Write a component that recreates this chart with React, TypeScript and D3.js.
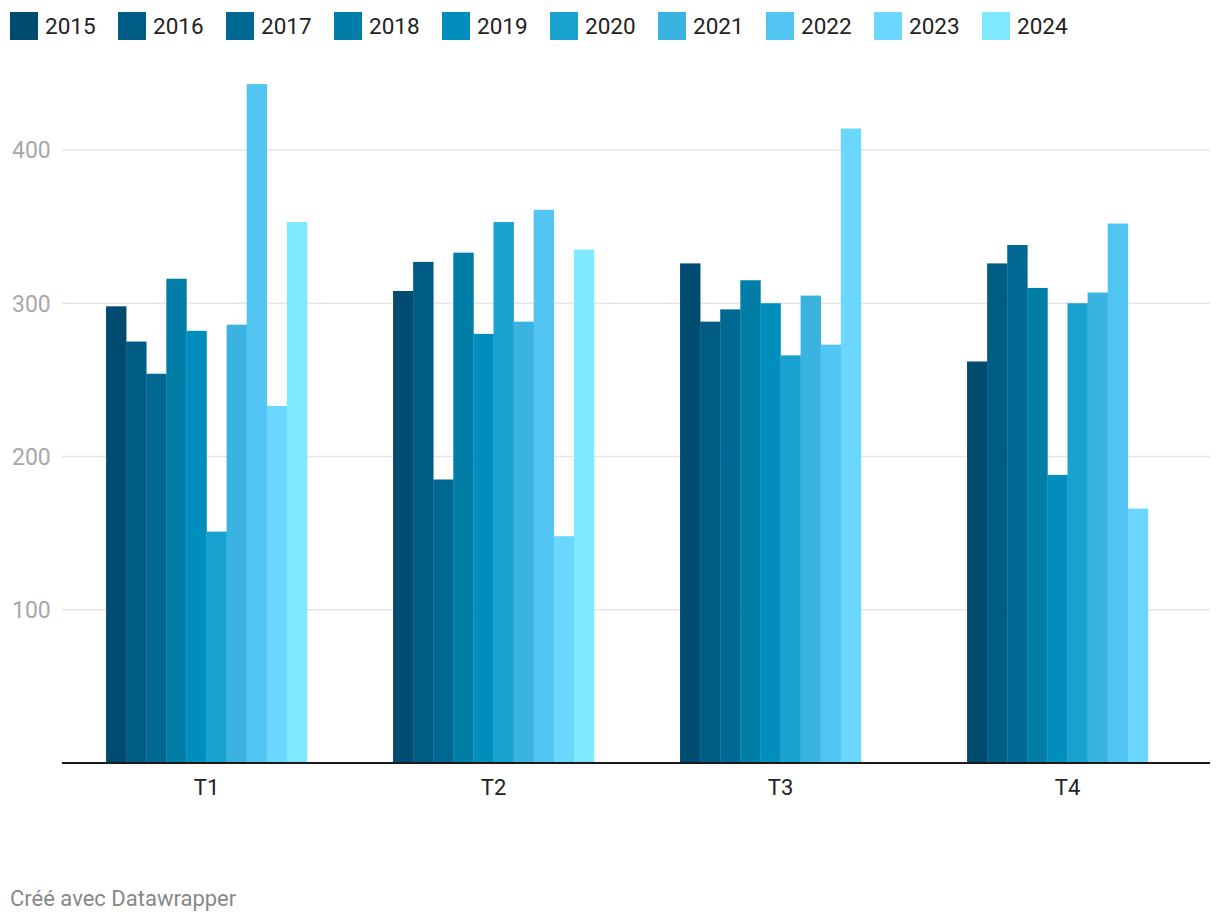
import React from "react";
import * as d3 from "d3";

const categories = ["T1", "T2", "T3", "T4"];
const years = ["2015", "2016", "2017", "2018", "2019", "2020", "2021", "2022", "2023", "2024"];
const colors = ["#004c70", "#005b85", "#006993", "#007ea8", "#008ebd", "#19a2cf", "#3bb3e0", "#52c5f2", "#6bd7fe", "#7ee9ff"];
// values[year][quarter]; null = missing
const v2015 = [298, 308, 326, 262];
const v2016 = [275, 327, 288, 326];
const v2017 = [254, 185, 296, 338];
const v2018 = [316, 333, 315, 310];
const v2019 = [282, 280, 300, 188];
const v2020 = [151, 353, 266, 300];
const v2021 = [286, 288, 305, 307];
const v2022 = [443, 361, 273, 352];
const v2023 = [233, 148, 414, 166];
const v2024 = [353, 335, null, null];
const series = [v2015, v2016, v2017, v2018, v2019, v2020, v2021, v2022, v2023, v2024];
const yTicks = [100, 200, 300, 400];

const W = 1220;
const H = 924;
const left = 62;
const right = 1210;
const baseY = 763;

export default function App() {
  const x0 = d3.scaleBand<string>().domain(categories).range([left + 1, right + 1]).paddingInner(0.3).paddingOuter(0.15);
  const x1 = d3.scaleBand<string>().domain(years).range([0, x0.bandwidth()]).padding(0);
  const y = d3.scaleLinear().domain([0, 400]).range([baseY, 150]);
  const font = "Roboto, 'Noto Sans', sans-serif";

  return (
    <svg width={W} height={H} style={{ position: "absolute", left: 0, top: 0, background: "#fff" }} fontFamily={font}>
      {/* legend */}
      {years.map((yr, i) => (
        <g key={yr} transform={`translate(${10 + i * 108},12)`}>
          <rect width={28} height={28} fill={colors[i]} />
          <text x={35} y={14} dy="0.36em" fontSize={22.5} fill="#222">{yr}</text>
        </g>
      ))}
      {/* grid */}
      {yTicks.map((t) => (
        <g key={t}>
          <line x1={left} x2={right} y1={y(t)} y2={y(t)} stroke="#e6e6e6" strokeWidth={1.5} />
          <text x={12} y={y(t)} dy="0.36em" fontSize={23} fill="#a8a8a8">{t}</text>
        </g>
      ))}
      {/* bars */}
      {categories.map((c, ci) => (
        <g key={c} transform={`translate(${x0(c)},0)`}>
          {years.map((yr, yi) => {
            const val = series[yi][ci];
            if (val == null) return null;
            return (
              <rect key={yr} x={x1(yr)} y={y(val)} width={x1.bandwidth() + 0.3} height={baseY - y(val)} fill={colors[yi]} />
            );
          })}
        </g>
      ))}
      {/* axis */}
      <line x1={left} x2={right} y1={baseY} y2={baseY} stroke="#1a1a1a" strokeWidth={2} />
      {categories.map((c) => (
        <text key={c} x={(x0(c) as number) + x0.bandwidth() / 2} y={787} dy="0.36em" fontSize={22} textAnchor="middle" fill="#222">{c}</text>
      ))}
      <text x={10} y={898} dy="0.36em" fontSize={22} fill="#888">Créé avec Datawrapper</text>
    </svg>
  );
}
